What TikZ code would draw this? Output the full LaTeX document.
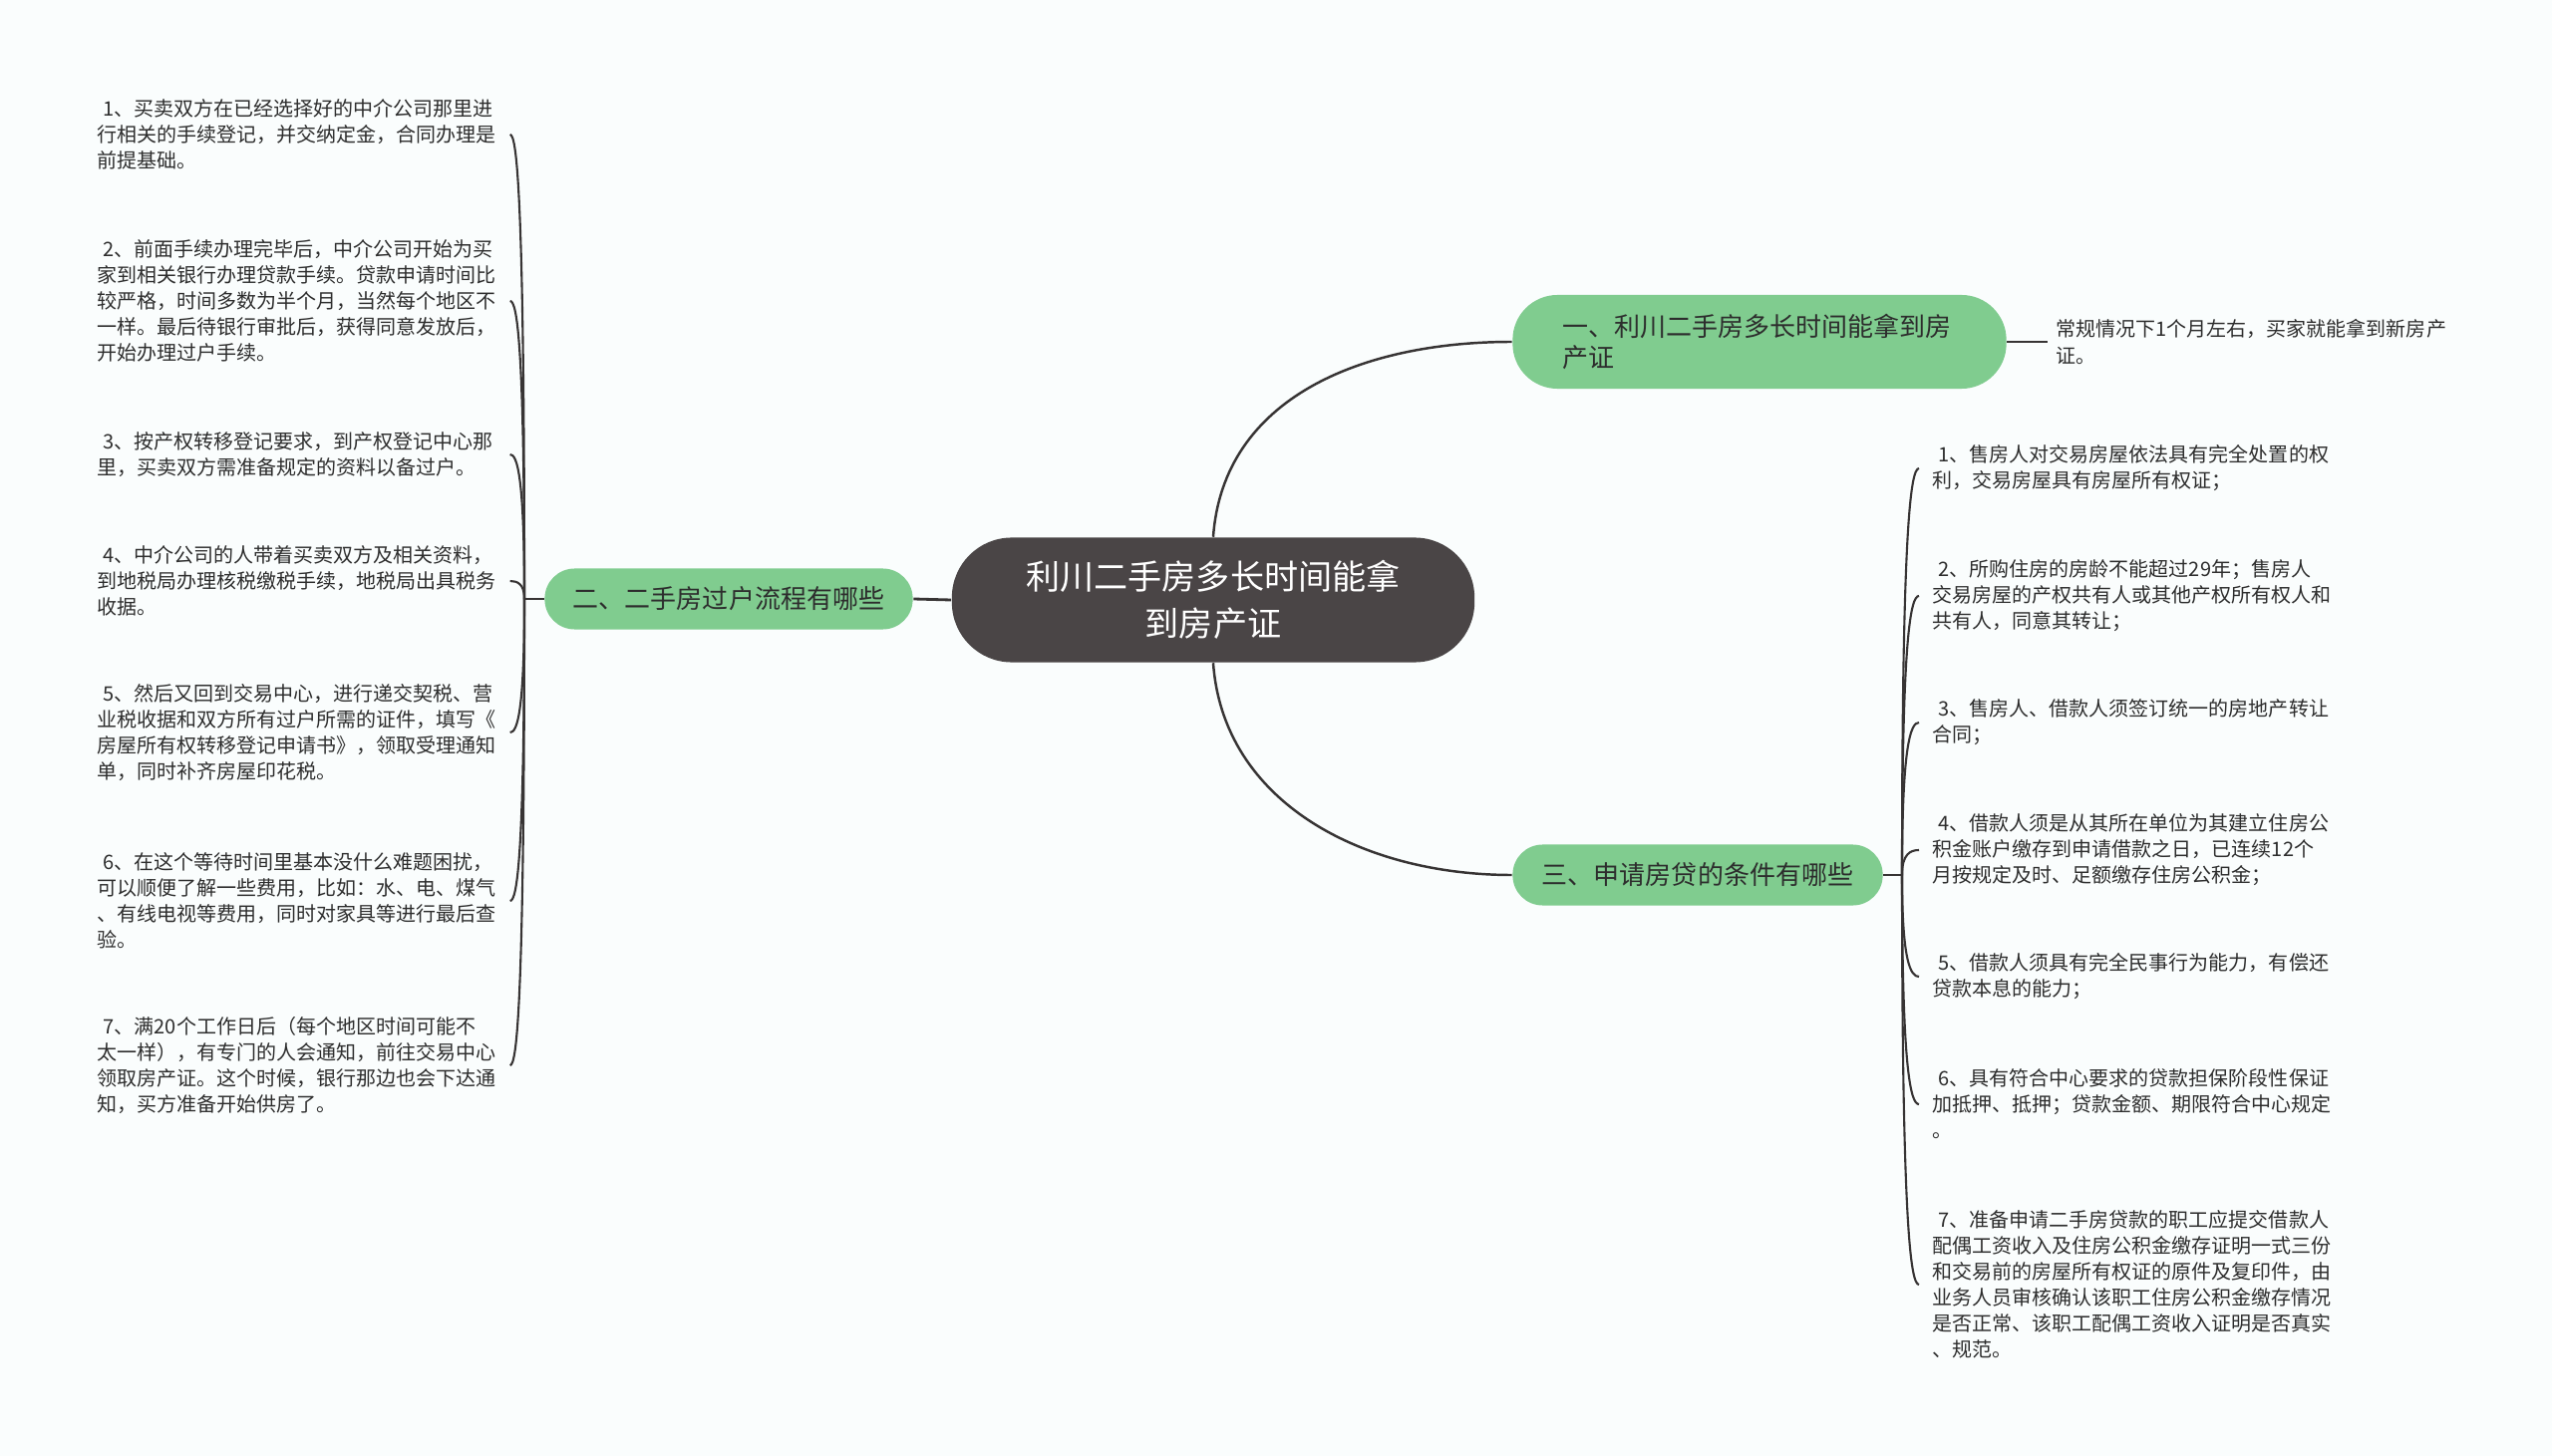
\documentclass[tikz,border=0pt]{standalone}
\usepackage{fontspec}
\setmainfont{Noto Sans CJK SC}
\usetikzlibrary{calc}
\definecolor{bgc}{RGB}{250,253,253}
\definecolor{rootc}{RGB}{74,69,70}
\definecolor{topicc}{RGB}{128,204,143}
\definecolor{linec}{RGB}{55,52,52}
\definecolor{txtc}{RGB}{45,45,45}

\begin{document}
\begin{tikzpicture}[x=0.01cm,y=-0.01cm,
  root/.style={fill=rootc,text=white,rounded corners=0.6cm,minimum width=5.24cm,minimum height=1.25cm,align=center,font=\fontsize{9.7pt}{13.4pt}\selectfont},
  topic/.style={fill=topicc,text=txtc,rounded corners=0.3cm,minimum height=0.61cm,font=\fontsize{7.4pt}{8.8pt}\selectfont},
  leaf/.style={text=txtc,text width=4cm,align=left,anchor=west,inner xsep=0.13cm,inner ysep=0pt,font=\fontsize{5.69pt}{7.4pt}\selectfont},
  link/.style={draw=linec,line width=0.6pt}]
\useasboundingbox[fill=bgc] (0,0) rectangle (2560,1461);

% root and topics
\node[root] (ctr) at (1217,602) {利川二手房多长时间能拿\\到房产证};
\node[topic,minimum width=4.95cm,minimum height=0.94cm,rounded corners=0.45cm,text width=3.95cm,align=left] (b1) at (1765,343) {一、利川二手房多长时间能拿到房\\产证};
\node[topic,minimum width=3.69cm] (b2) at (731,601) {二、二手房过户流程有哪些};
\node[topic,minimum width=3.71cm] (b3) at (1703,878) {三、申请房贷的条件有哪些};

\node[leaf,inner xsep=0.08cm,text width=4.1cm] (b1n) at (2054,343) {常规情况下1个月左右，买家就能拿到新房产\\证。};

% left side
\node[leaf] (l1) at (84,135) {\kern0.3em1、买卖双方在已经选择好的中介公司那里进\\行相关的手续登记，并交纳定金，合同办理是\\前提基础。};
\node[leaf] (l2) at (84,302) {\kern0.3em2、前面手续办理完毕后，中介公司开始为买\\家到相关银行办理贷款手续。贷款申请时间比\\较严格，时间多数为半个月，当然每个地区不\\一样。最后待银行审批后，获得同意发放后，\\开始办理过户手续。};
\node[leaf] (l3) at (84,456) {\kern0.3em3、按产权转移登记要求，到产权登记中心那\\里，买卖双方需准备规定的资料以备过户。};
\node[leaf] (l4) at (84,583) {\kern0.3em4、中介公司的人带着买卖双方及相关资料，\\到地税局办理核税缴税手续，地税局出具税务\\收据。};
\node[leaf] (l5) at (84,735) {\kern0.3em5、然后又回到交易中心，进行递交契税、营\\业税收据和双方所有过户所需的证件，填写《\\房屋所有权转移登记申请书》，领取受理通知\\单，同时补齐房屋印花税。};
\node[leaf] (l6) at (84,904) {\kern0.3em6、在这个等待时间里基本没什么难题困扰，\\可以顺便了解一些费用，比如：水、电、煤气\\、有线电视等费用，同时对家具等进行最后查\\验。};
\node[leaf] (l7) at (84,1069) {\kern0.3em7、满20个工作日后（每个地区时间可能不\\太一样），有专门的人会通知，前往交易中心\\领取房产证。这个时候，银行那边也会下达通\\知，买方准备开始供房了。};

% right side
\node[leaf] (r1) at (1925,470) {\kern0.3em1、售房人对交易房屋依法具有完全处置的权\\利，交易房屋具有房屋所有权证；};
\node[leaf] (r2) at (1925,598) {\kern0.3em2、所购住房的房龄不能超过29年；售房人\\交易房屋的产权共有人或其他产权所有权人和\\共有人，同意其转让；};
\node[leaf] (r3) at (1925,725) {\kern0.3em3、售房人、借款人须签订统一的房地产转让\\合同；};
\node[leaf] (r4) at (1925,853) {\kern0.3em4、借款人须是从其所在单位为其建立住房公\\积金账户缴存到申请借款之日，已连续12个\\月按规定及时、足额缴存住房公积金；};
\node[leaf] (r5) at (1925,980) {\kern0.3em5、借款人须具有完全民事行为能力，有偿还\\贷款本息的能力；};
\node[leaf] (r6) at (1925,1108) {\kern0.3em6、具有符合中心要求的贷款担保阶段性保证\\加抵押、抵押；贷款金额、期限符合中心规定\\。};
\node[leaf] (r7) at (1925,1289) {\kern0.3em7、准备申请二手房贷款的职工应提交借款人\\配偶工资收入及住房公积金缴存证明一式三份\\和交易前的房屋所有权证的原件及复印件，由\\业务人员审核确认该职工住房公积金缴存情况\\是否正常、该职工配偶工资收入证明是否真实\\、规范。};

\coordinate (jl) at (526,601);
\coordinate (jr) at (1908,878);

% connectors
\draw[link,line width=0.8pt] (ctr.west) -- (b2.east);
\draw[link,line width=0.7pt] (ctr.north) .. controls +(10,-140) and +(-150,0) .. (b1.west);
\draw[link,line width=0.7pt] (ctr.south) .. controls +(10,140) and +(-150,0) .. (b3.west);
\draw[link] (b1.east) -- (b1n.west);
\draw[link] (b2.west) -- (jl);
\draw[link] (b3.east) -- (jr);
\foreach \n in {1,...,7} {
  \draw[link] (jl) .. controls ($(jl)!0.85!(jl|-l\n.east)$) and ($(l\n.east)!0.5!(l\n.east-|jl)$) .. (l\n.east);
  \draw[link] (jr) .. controls ($(jr)!0.85!(jr|-r\n.west)$) and ($(r\n.west)!0.5!(r\n.west-|jr)$) .. (r\n.west);
}
\end{tikzpicture}
\end{document}
